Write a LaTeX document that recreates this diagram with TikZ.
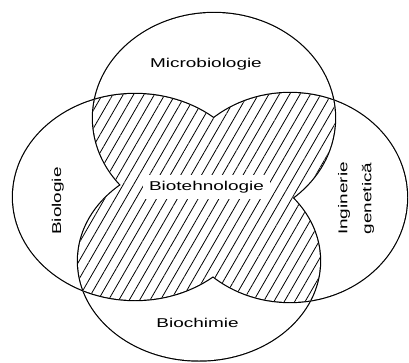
\documentclass[tikz,border=0pt]{standalone}
\usepackage{fontspec}
\setmainfont{Liberation Sans}
\usetikzlibrary{patterns.meta}

% the four fields, in pixel units
\def\shT{(214,244) ellipse [x radius=121, y radius=105]}
\def\shL{(135,165) ellipse [x radius=122, y radius=103]}
\def\shR{(290,164.5) ellipse [x radius=117, y radius=104.5]}
\def\shB{(199,101) ellipse [x radius=121, y radius=99.5]}

\tikzset{
  rim/.style={line width=2.4pt},
  hatch/.style={pattern={Lines[angle=60,distance=9pt,line width=0.8pt]}},
  lbl/.style={font=\fontsize{12.8}{24}\selectfont, inner sep=1pt, xscale=1.48, transform shape}
}

\begin{document}
\begin{tikzpicture}[x=1pt,y=1pt]
\useasboundingbox (0,0) rectangle (409,362);
% outer outline
\foreach \s in {\shT,\shL,\shR,\shB} \draw[rim] \s;
\foreach \s in {\shT,\shL,\shR,\shB} \fill[white] \s;
% outline of the overlaps
\foreach \a/\b in {\shT/\shL,\shT/\shR,\shT/\shB,\shL/\shR,\shL/\shB,\shR/\shB}{
  \begin{scope} \clip \a; \draw[rim] \b; \end{scope}
  \begin{scope} \clip \b; \draw[rim] \a; \end{scope}
}
% hatched overlaps
\foreach \a/\b in {\shT/\shL,\shT/\shR,\shT/\shB,\shL/\shR,\shL/\shB,\shR/\shB}{
  \begin{scope} \clip \a; \fill[white] \b; \fill[hatch] \b; \end{scope}
}
\node[lbl, anchor=base] (micro) at (206,294.7) {Microbiologie};
\node[lbl, anchor=base, fill=white, inner xsep=4pt, inner ysep=6pt] (biotech) at (206.5,171.3) {Biotehnologie};
\node[lbl, anchor=base] (biochim) at (197.5,34.3) {Biochimie};
\node[rotate=90, lbl, anchor=base] (bio) at (61,161) {Biologie};
\node[rotate=90, lbl, align=center] (ing) at (356,163.5) {Inginerie\\genetică};
\end{tikzpicture}
\end{document}
